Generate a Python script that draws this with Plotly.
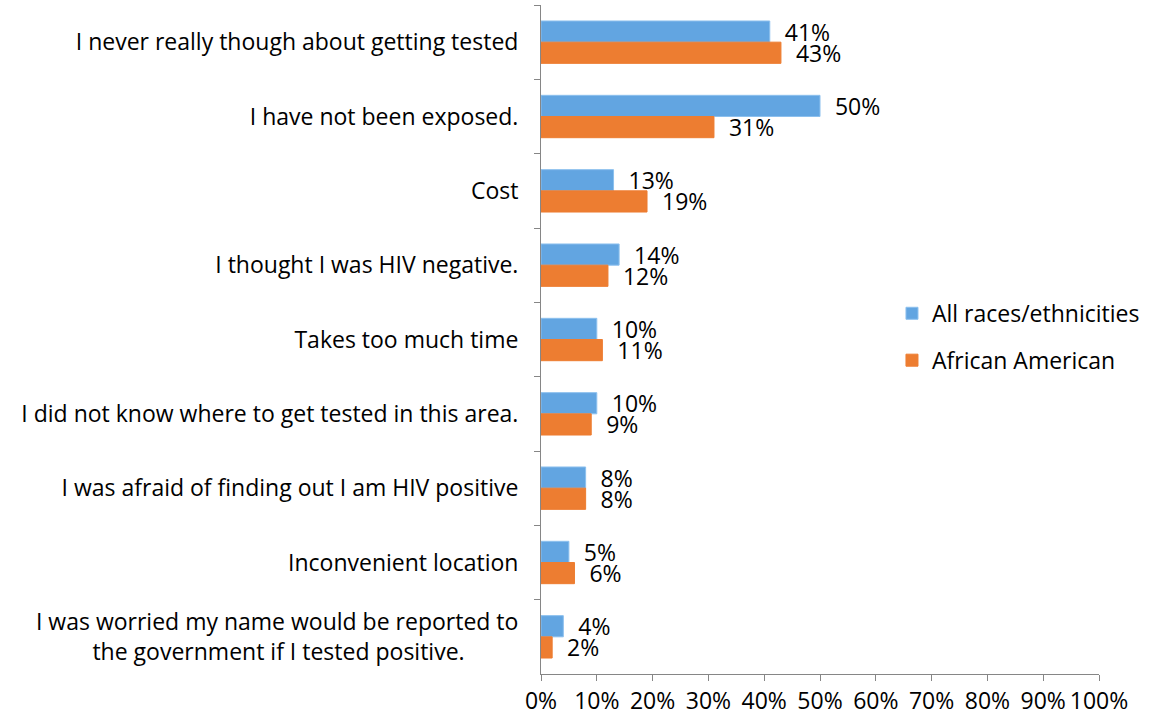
import plotly.graph_objects as go

categories = [
    "I never really though about getting tested",
    "I have not been exposed.",
    "Cost",
    "I thought I was HIV negative.",
    "Takes too much time",
    "I did not know where to get tested in this area.",
    "I was afraid of finding out I am HIV positive",
    "Inconvenient location",
    "I was worried my name would be reported to<br>the government if I tested positive." + "\u00a0" * 9,
]
all_races = [41, 50, 13, 14, 10, 10, 8, 5, 4]
african_american = [43, 31, 19, 12, 11, 9, 8, 6, 2]
x_ticks = [0, 10, 20, 30, 40, 50, 60, 70, 80, 90, 100]
x_tick_labels = [f"{t}%" for t in x_ticks]

FONT = "Open Sans"
FS = 23
fig = go.Figure()
fig.add_trace(go.Bar(
    y=categories, x=all_races, orientation="h", name="All races/ethnicities",
    marker=dict(color="#62a5e1", line=dict(color="#8cc0ee", width=1)),
    text=[f"\u00a0\u00a0{v}%" for v in all_races], textposition="outside",
    constraintext="none",
    textfont=dict(family=FONT, size=FS, color="black"), cliponaxis=False,
    legendgroup="a",
))
fig.add_trace(go.Bar(
    y=categories, x=african_american, orientation="h", name="African American",
    marker=dict(color="#ed7d31", line=dict(color="#ed7d31", width=1)),
    text=[f"\u00a0\u00a0{v}%" for v in african_american], textposition="outside",
    constraintext="none",
    textfont=dict(family=FONT, size=FS, color="black"), cliponaxis=False,
    legendgroup="b",
))

fig.update_layout(
    width=1151, height=719,
    margin=dict(l=541, r=52, t=5, b=45),
    barmode="group", bargap=0.43, bargroupgap=0,
    plot_bgcolor="white", paper_bgcolor="white",
    font=dict(family=FONT, size=FS, color="black"),
    legend=dict(x=0.629, y=0.504, xanchor="left", yanchor="middle",
                font=dict(family=FONT, size=FS, color="black"),
                tracegroupgap=14, bgcolor="rgba(0,0,0,0)"),
    xaxis=dict(range=[0, 100], tickvals=x_ticks, ticktext=x_tick_labels,
               showgrid=False, zeroline=False, showline=True, linecolor="#868686",
               linewidth=1, ticks="outside", ticklen=6, tickcolor="#868686",
               automargin=False, ticklabelstandoff=0,
               tickfont=dict(family=FONT, size=FS, color="black")),
    yaxis=dict(autorange="reversed", showgrid=False, showline=True,
               linecolor="#868686", linewidth=1, ticks="outside", ticklen=6,
               tickcolor="#868686", tickson="boundaries", automargin=False,
               ticklabelstandoff=17,
               tickfont=dict(family=FONT, size=FS, color="black")),
)
fig.write_html("out.html", config={"displayModeBar": False},
               post_script="document.body.style.margin='0';")
